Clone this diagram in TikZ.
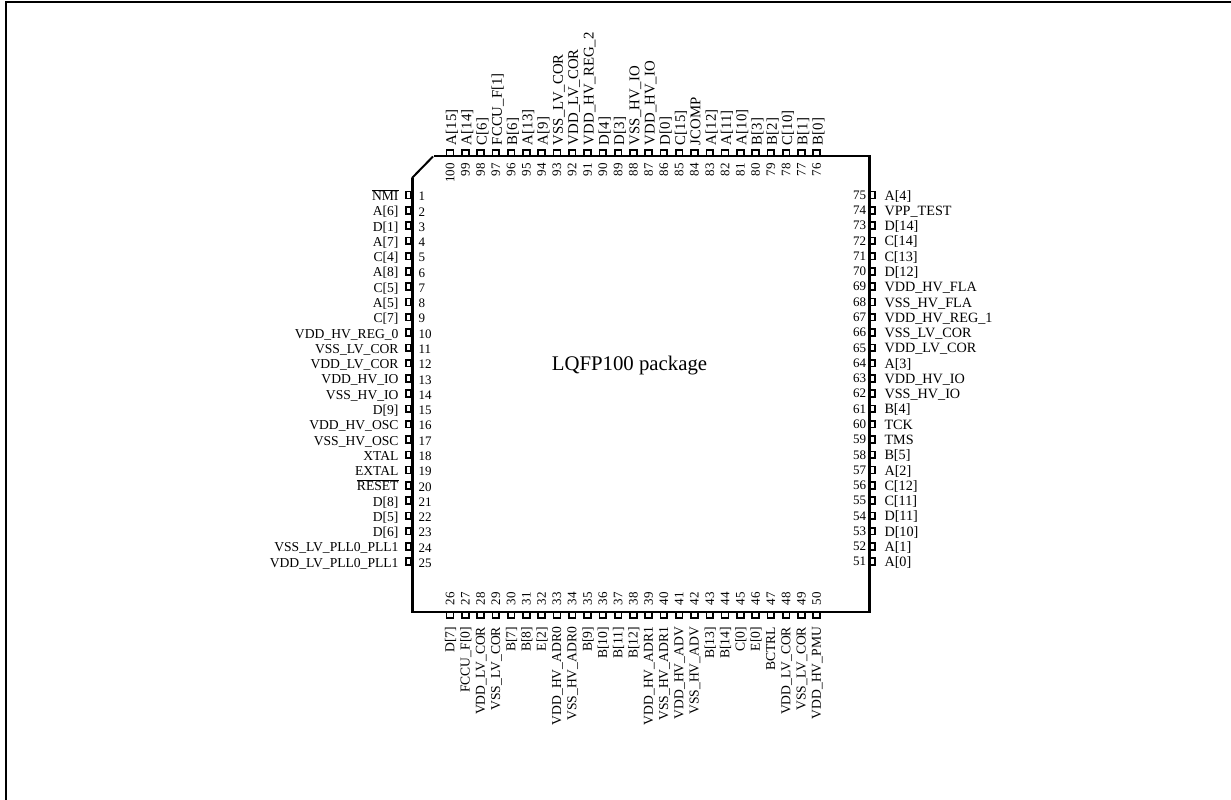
\documentclass[tikz,border=0pt]{standalone}
\usepackage{fontspec}
\setmainfont{Liberation Serif}
\tikzset{
  x=1pt,y=-1pt,
  pin/.style={draw=black,line width=1.7pt,fill=white,minimum width=5.5pt,minimum height=6.8pt,inner sep=0pt,outer sep=0pt},
  pinv/.style={draw=black,line width=1.7pt,fill=white,minimum width=6.8pt,minimum height=5.5pt,inner sep=0pt,outer sep=0pt},
  txt/.style={inner sep=0pt,outer sep=0pt,text height=9pt,text depth=2.5pt},
  txtleft/.style={txt,font=\fontsize{13.6}{14}\selectfont},
  txtright/.style={txt,font=\fontsize{14.2}{15}\selectfont},
  txttop/.style={txt,font=\fontsize{14.8}{15}\selectfont},
  txtbot/.style={txt,font=\fontsize{13.6}{14}\selectfont},
  txtnum/.style={txt,font=\fontsize{13}{14}\selectfont},
}
\newcommand{\ovl}[1]{$\overline{\hbox{#1}}$}
\begin{document}
\begin{tikzpicture}
\useasboundingbox (0,0) rectangle (1231,800);
\draw[line width=1.7pt] (5.7,800) -- (5.7,1.8) -- (1231,1.8);
% left
\foreach \n/\l [count=\i from 0] in {1/\ovl{NMI},2/{A[6]},3/{D[1]},4/{A[7]},5/{C[4]},6/{A[8]},7/{C[5]},8/{A[5]},9/{C[7]},10/VDD\_HV\_REG\_0,11/VSS\_LV\_COR,12/VDD\_LV\_COR,13/VDD\_HV\_IO,14/VSS\_HV\_IO,15/{D[9]},16/VDD\_HV\_OSC,17/VSS\_HV\_OSC,18/XTAL,19/EXTAL,20/\ovl{RESET},21/{D[8]},22/{D[5]},23/{D[6]},24/VSS\_LV\_PLL0\_PLL1,25/VDD\_LV\_PLL0\_PLL1}{
  \pgfmathsetmacro\yy{195+15.28*\i}
  \node[pin] (p\n) at (408.5,\yy) {};
  \node[txtleft,anchor=east] (l\n) at (398.5,\yy+2.3) {\l};
  \node[txtnum,anchor=west] (n\n) at (418.5,\yy+2.5) {\n};
}
% right
\foreach \n/\l [count=\i from 0] in {75/{A[4]},74/VPP\_TEST,73/{D[14]},72/{C[14]},71/{C[13]},70/{D[12]},69/VDD\_HV\_FLA,68/VSS\_HV\_FLA,67/VDD\_HV\_REG\_1,66/VSS\_LV\_COR,65/VDD\_LV\_COR,64/{A[3]},63/VDD\_HV\_IO,62/VSS\_HV\_IO,61/{B[4]},60/TCK,59/TMS,58/{B[5]},57/{A[2]},56/{C[12]},55/{C[11]},54/{D[11]},53/{D[10]},52/{A[1]},51/{A[0]}}{
  \pgfmathsetmacro\yy{195+15.28*\i}
  \node[pin] (p\n) at (872.5,\yy) {};
  \node[txtright,anchor=west] (l\n) at (884.5,\yy+1.8) {\l};
  \node[txtnum,anchor=east] (n\n) at (866,\yy+1) {\n};
}
% top
\foreach \n/\l [count=\i from 0] in {100/{A[15]},99/{A[14]},98/{C[6]},97/FCCU\_F[1],96/{B[6]},95/{A[13]},94/{A[9]},93/VSS\_LV\_COR,92/VDD\_LV\_COR,91/VDD\_HV\_REG\_2,90/{D[4]},89/{D[3]},88/VSS\_HV\_IO,87/VDD\_HV\_IO,86/{D[0]},85/{C[15]},84/JCOMP,83/{A[12]},82/{A[11]},81/{A[10]},80/{B[3]},79/{B[2]},78/{C[10]},77/{B[1]},76/{B[0]}}{
  \pgfmathsetmacro\xx{450+15.28*\i}
  \node[pinv] (p\n) at (\xx,153) {};
  \node[txttop,anchor=west,rotate=90] (l\n) at (\xx+2.75,145) {\l};
  \node[txtnum,anchor=east,rotate=90] (n\n) at (\xx+1,163) {\n};
}
% bottom
\foreach \n/\l [count=\i from 0] in {26/{D[7]},27/FCCU\_F[0],28/VDD\_LV\_COR,29/VSS\_LV\_COR,30/{B[7]},31/{B[8]},32/{E[2]},33/VDD\_HV\_ADR0,34/VSS\_HV\_ADR0,35/{B[9]},36/{B[10]},37/{B[11]},38/{B[12]},39/VDD\_HV\_ADR1,40/VSS\_HV\_ADR1,41/VDD\_HV\_ADV,42/VSS\_HV\_ADV,43/{B[13]},44/{B[14]},45/{C[0]},46/{E[0]},47/BCTRL,48/VDD\_LV\_COR,49/VSS\_LV\_COR,50/VDD\_HV\_PMU}{
  \pgfmathsetmacro\xx{450+15.28*\i}
  \node[pinv] (p\n) at (\xx,615) {};
  \node[txtbot,anchor=east,rotate=90] (l\n) at (\xx+1,627) {\l};
  \node[txtnum,anchor=west,rotate=90] (n\n) at (\xx+1,605) {\n};
}
\draw[line width=2.4pt,line join=miter] (412.5,178) -- (412.5,612) -- (869.5,612) -- (869.5,156) -- (434,156);
\draw[line width=2pt] (412,178) -- (433,156.5);
\node[font=\fontsize{20.8}{22}\selectfont,inner sep=0pt] (title) at (629.5,366) {LQFP100 package};
\end{tikzpicture}
\end{document}
